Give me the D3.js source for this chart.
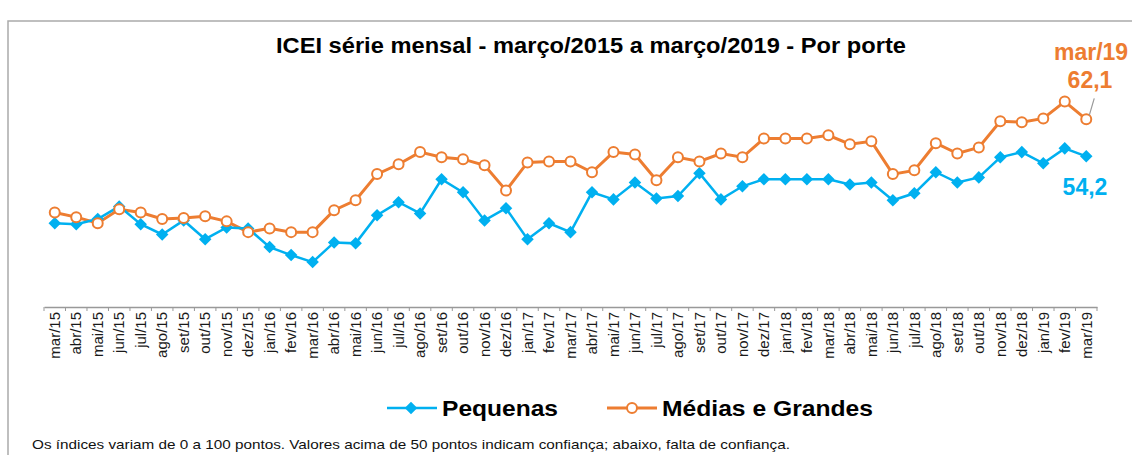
<!DOCTYPE html>
<html>
<head>
<meta charset="utf-8">
<script src="https://cdn.jsdelivr.net/npm/d3@7"></script>
<style>
  body { margin: 0; background: #fff; }
  text { font-family: "Liberation Sans", Arial, sans-serif; }
</style>
</head>
<body>
<div id="chart"></div>
<script>
const months = ["mar/15","abr/15","mai/15","jun/15","jul/15","ago/15","set/15","out/15","nov/15","dez/15",
  "jan/16","fev/16","mar/16","abr/16","mai/16","jun/16","jul/16","ago/16","set/16","out/16","nov/16","dez/16",
  "jan/17","fev/17","mar/17","abr/17","mai/17","jun/17","jul/17","ago/17","set/17","out/17","nov/17","dez/17",
  "jan/18","fev/18","mar/18","abr/18","mai/18","jun/18","jul/18","ago/18","set/18","out/18","nov/18","dez/18",
  "jan/19","fev/19","mar/19"];

const pequenas = [39.9,39.7,40.8,43.5,39.7,37.5,40.5,36.5,39.0,38.8,
  34.8,33.1,31.6,35.8,35.6,41.6,44.4,42.0,49.3,46.5,40.5,43.1,
  36.5,39.9,38.0,46.5,45.0,48.6,45.2,45.7,50.6,45.0,47.8,49.3,
  49.3,49.3,49.3,48.2,48.6,44.8,46.3,50.8,48.6,49.7,54.0,55.1,
  52.7,55.9,54.2];

const mediasGrandes = [42.2,41.2,39.9,42.9,42.2,40.8,41.0,41.4,40.3,38.0,
  38.8,38.0,38.0,42.7,44.8,50.4,52.5,55.1,54.0,53.6,52.3,46.9,
  52.9,53.1,53.1,50.8,55.1,54.6,49.1,54.0,53.1,54.8,54.0,58.0,
  58.0,58.0,58.7,56.8,57.4,50.4,51.2,57.0,54.8,56.1,61.7,61.5,
  62.3,65.9,62.1];

const title = "ICEI série mensal - março/2015 a março/2019 - Por porte";
const note = "Os índices variam de 0 a 100 pontos. Valores acima de 50 pontos indicam confiança; abaixo, falta de confiança.";

const blue = "#00B0F0", orange = "#ED7D31";
const W = 1132, H = 455;

let svg = d3.select("#chart").append("svg")
  .attr("width", W).attr("height", H);

// frame
svg.append("path")
  .attr("d", "M8," + H + "V21H" + W)
  .attr("fill", "none")
  .attr("stroke", "#aaa")
  .attr("stroke-width", 1.5);

let x = d3.scaleBand().domain(months).range([44, 1097]).padding(0);
let y = d3.scaleLinear().domain([22, 75]).range([307, 59]);
let cx = d => x(d) + x.bandwidth() / 2;

// title
svg.append("text")
  .attr("x", 591).attr("y", 53)
  .attr("text-anchor", "middle")
  .attr("font-size", 22).attr("font-weight", "bold")
  .attr("textLength", 630).attr("lengthAdjust", "spacingAndGlyphs")
  .text(title);

// x axis
let ax = svg.append("g")
  .attr("transform", "translate(0,307)")
  .call(d3.axisBottom(x).tickSize(0).tickPadding(0));
ax.select(".domain").attr("stroke", "#999").attr("stroke-width", 1.5);
ax.selectAll(".tick text")
  .attr("transform", "rotate(-90)")
  .attr("text-anchor", "end")
  .attr("dy", "0.35em")
  .attr("x", -5).attr("y", 0)
  .attr("font-size", 15)
  .attr("font-family", "Liberation Sans, Arial, sans-serif")
  .attr("fill", "#1a1a1a");
ax.selectAll(".bound")
  .data(d3.range(months.length + 1))
  .enter().append("line")
  .attr("x1", i => 44 + i * x.step()).attr("x2", i => 44 + i * x.step())
  .attr("y1", 0).attr("y2", 4)
  .attr("stroke", "#999");

let line = d3.line().x((d, i) => cx(months[i])).y(d => y(d));

// Médias e Grandes
svg.append("path").datum(mediasGrandes)
  .attr("d", line).attr("fill", "none")
  .attr("stroke", orange).attr("stroke-width", 3);

// Pequenas
svg.append("path").datum(pequenas)
  .attr("d", line).attr("fill", "none")
  .attr("stroke", blue).attr("stroke-width", 2.5);

let diamond = d3.symbol().type(d3.symbolDiamond2).size(100);

svg.selectAll(".dia").data(pequenas).enter().append("path")
  .attr("class", "dia")
  .attr("transform", (d, i) => "translate(" + cx(months[i]) + "," + y(d) + ")")
  .attr("d", diamond)
  .attr("fill", blue);

svg.selectAll(".circ").data(mediasGrandes).enter().append("circle")
  .attr("class", "circ")
  .attr("cx", (d, i) => cx(months[i]))
  .attr("cy", d => y(d))
  .attr("r", 5)
  .attr("fill", "#fff")
  .attr("stroke", orange).attr("stroke-width", 2);

// annotations for last point
let last = months.length - 1;
svg.append("line")
  .attr("x1", cx(months[last]) + 8).attr("y1", y(mediasGrandes[last]) - 21)
  .attr("x2", cx(months[last]) + 3).attr("y2", y(mediasGrandes[last]) - 4)
  .attr("stroke", "#999").attr("stroke-width", 1.2);

svg.append("text")
  .attr("x", 1054).attr("y", 60)
  .attr("font-size", 23).attr("font-weight", "bold")
  .attr("fill", orange)
  .text(months[last]);

svg.append("text")
  .attr("x", 1090).attr("y", 88)
  .attr("text-anchor", "middle")
  .attr("font-size", 23).attr("font-weight", "bold")
  .attr("fill", orange)
  .text(d3.format(".1f")(mediasGrandes[last]).replace(".", ","));

svg.append("text")
  .attr("x", 1085).attr("y", 195)
  .attr("text-anchor", "middle")
  .attr("font-size", 23).attr("font-weight", "bold")
  .attr("fill", blue)
  .text(d3.format(".1f")(pequenas[last]).replace(".", ","));

// legend
let lg = svg.append("g");
lg.append("line").attr("x1", 387).attr("x2", 437).attr("y1", 408).attr("y2", 408)
  .attr("stroke", blue).attr("stroke-width", 2.5);
lg.append("path").attr("transform", "translate(411,408)").attr("d", diamond).attr("fill", blue);
lg.append("text").attr("x", 442).attr("y", 416)
  .attr("font-size", 22).attr("font-weight", "bold")
  .attr("textLength", 116).attr("lengthAdjust", "spacingAndGlyphs")
  .text("Pequenas");

lg.append("line").attr("x1", 607).attr("x2", 657).attr("y1", 408).attr("y2", 408)
  .attr("stroke", orange).attr("stroke-width", 3);
lg.append("circle").attr("cx", 632).attr("cy", 408).attr("r", 5)
  .attr("fill", "#fff").attr("stroke", orange).attr("stroke-width", 2);
lg.append("text").attr("x", 662).attr("y", 416)
  .attr("font-size", 22).attr("font-weight", "bold")
  .attr("textLength", 211).attr("lengthAdjust", "spacingAndGlyphs")
  .text("Médias e Grandes");

// footnote
svg.append("text")
  .attr("x", 32).attr("y", 449)
  .attr("font-size", 13)
  .attr("fill", "#111")
  .attr("textLength", 758).attr("lengthAdjust", "spacingAndGlyphs")
  .text(note);
</script>
</body>
</html>
